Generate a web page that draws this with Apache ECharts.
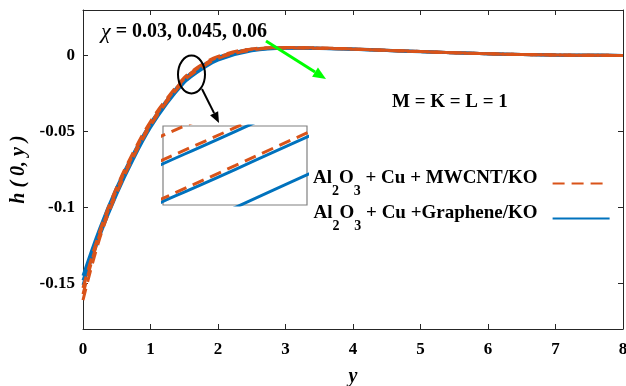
<!DOCTYPE html>
<html><head><meta charset="utf-8">
<script src="https://cdn.jsdelivr.net/npm/echarts@6/dist/echarts.min.js"></script>
<style>html,body{margin:0;padding:0;background:#fff}#c{width:626px;height:386px}</style>
</head><body><div id="c"></div>
<script>
// ---- data ----
const yPos = [0, 0.25, 0.5, 0.75, 1, 1.25, 1.5, 1.6, 1.75, 2, 2.5, 3, 3.5, 4, 4.5, 5, 5.5, 6, 6.5, 7, 7.5, 8];
const chiValues = ['0.03', '0.045', '0.06'];
const graphene_chi003 = [-0.145, -0.1135, -0.0868, -0.0642, -0.0446, -0.0289, -0.0154, -0.01164, -0.0071, -0.0011, 0.0041, 0.0052, 0.0049, 0.0043, 0.0035, 0.0026, 0.0018, 0.0012, 0.0007, 0.0004, 0.0002, 0.0001];
const graphene_chi0045 = [-0.148, -0.116, -0.089, -0.066, -0.046, -0.030, -0.0165, -0.0128, -0.0082, -0.0020, 0.0036, 0.0050, 0.0048, 0.0042, 0.0034, 0.0026, 0.0018, 0.0012, 0.0007, 0.0004, 0.0002, 0.0001];
const graphene_chi006 = [-0.151, -0.1185, -0.0912, -0.0678, -0.0474, -0.0311, -0.0177, -0.01396, -0.0093, -0.0029, 0.0031, 0.0048, 0.0047, 0.0041, 0.0033, 0.0025, 0.0018, 0.0012, 0.0007, 0.0004, 0.0002, 0.0001];
const mwcnt_chi003 = [-0.153, -0.1155, -0.0865, -0.0632, -0.0434, -0.0279, -0.0145, -0.01079, -0.0063, -0.0005, 0.0044, 0.0053, 0.0050, 0.0043, 0.0035, 0.0027, 0.0019, 0.0012, 0.0007, 0.0004, 0.0002, 0.0001];
const mwcnt_chi0045 = [-0.157, -0.1175, -0.0885, -0.0648, -0.0448, -0.0289, -0.0153, -0.01152, -0.0070, -0.0010, 0.0041, 0.0052, 0.0049, 0.0043, 0.0035, 0.0026, 0.0018, 0.0012, 0.0007, 0.0004, 0.0002, 0.0001];
const mwcnt_chi006 = [-0.161, -0.1200, -0.0905, -0.0665, -0.0462, -0.0300, -0.0165, -0.01268, -0.0081, -0.0019, 0.0036, 0.0050, 0.0048, 0.0042, 0.0034, 0.0026, 0.0018, 0.0012, 0.0007, 0.0004, 0.0002, 0.0001];
const xTicks = [0, 1, 2, 3, 4, 5, 6, 7, 8];
const yTicks = [-0.15, -0.1, -0.05, 0];
const insetXRange = [1.57, 1.63];
const insetYRange = [-0.01388, -0.01147];
const nameMWCNT = 'Al2O3 + Cu + MWCNT/KO';
const nameGraphene = 'Al2O3 + Cu +Graphene/KO';

// ---- chart ----
const FONT = 'Liberation Serif';
const BLUE = '#0072BD', ORANGE = '#D95319', AX = '#262626';
const chart = echarts.init(document.getElementById('c'));
const pairs = arr => yPos.map((x, i) => [x, arr[i]]);
const blueSets = [graphene_chi003, graphene_chi0045, graphene_chi006];
const orangeSets = [mwcnt_chi003, mwcnt_chi0045, mwcnt_chi006];

const series = [];
[0, 1].forEach(g => {
  blueSets.forEach(d => series.push({
    type: 'line', name: nameGraphene, data: pairs(d), xAxisIndex: g * 2, yAxisIndex: g * 2,
    smooth: 0.4, symbol: 'none', showSymbol: false, z: 2,
    lineStyle: { color: BLUE, width: 3 }, itemStyle: { color: BLUE }
  }));
  orangeSets.forEach(d => series.push({
    type: 'line', name: nameMWCNT, data: pairs(d), xAxisIndex: g * 2, yAxisIndex: g * 2,
    smooth: 0.4, symbol: 'none', showSymbol: false, z: 3,
    lineStyle: { color: ORANGE, width: 3, type: [12, 7] }, itemStyle: { color: ORANGE }
  }));
});

const labelStyle = { color: '#000', fontFamily: FONT, fontWeight: 'bold', fontSize: 17 };
const axLine = { show: true, onZero: false, lineStyle: { color: AX, width: 1 } };
const tickIn = { show: true, inside: true, length: 5, lineStyle: { color: AX } };

function arrow(x1, y1, x2, y2, color, w, hl, hw) {
  const dx = x2 - x1, dy = y2 - y1, L = Math.hypot(dx, dy), ux = dx / L, uy = dy / L;
  const bx = x2 - ux * hl, by = y2 - uy * hl;
  return [
    { type: 'line', shape: { x1, y1, x2: bx, y2: by }, style: { stroke: color, lineWidth: w }, z: 100 },
    { type: 'polygon', shape: { points: [[x2, y2], [bx - uy * hw / 2, by + ux * hw / 2], [bx + uy * hw / 2, by - ux * hw / 2]] }, style: { fill: color }, z: 100 }
  ];
}

const legendFmt = n => n === nameMWCNT
  ? '{n|Al}{s|2}{n|O}{s|3}{n| + Cu + MWCNT/KO}{sp| }'
  : '{n|Al}{s|2}{n|O}{s|3}{n| + Cu +Graphene/KO}{sp| }';

chart.setOption({
  animation: false,
  backgroundColor: '#fff',
  grid: [
    { left: 83, right: 3, top: 10, bottom: 57, show: false, outerBoundsMode: 'none', containLabel: false },
    { left: 163, top: 126, width: 144, height: 79, show: true, borderColor: '#808080', borderWidth: 1.2, backgroundColor: 'transparent', outerBoundsMode: 'none' }
  ],
  xAxis: [
    { type: 'value', gridIndex: 0, min: 0, max: 8, interval: 1, position: 'bottom',
      axisLine: axLine, axisTick: tickIn, splitLine: { show: false },
      axisLabel: Object.assign({ margin: 12 }, labelStyle),
      name: 'y', nameLocation: 'middle', nameGap: 38,
      nameTextStyle: { fontFamily: FONT, fontWeight: 'bold', fontStyle: 'italic', fontSize: 20, color: '#000' } },
    { type: 'value', gridIndex: 0, min: 0, max: 8, interval: 1, position: 'top',
      axisLine: axLine, axisTick: tickIn, splitLine: { show: false }, axisLabel: { show: false } },
    { type: 'value', gridIndex: 1, min: insetXRange[0], max: insetXRange[1], show: false }
  ],
  yAxis: [
    { type: 'value', gridIndex: 0, min: -0.18, max: 0.03, position: 'left',
      axisLine: axLine, splitLine: { show: false },
      axisTick: Object.assign({ customValues: yTicks }, tickIn),
      axisLabel: Object.assign({ customValues: yTicks, margin: 8, formatter: v => String(+v.toFixed(2)) }, labelStyle),
      name: 'h ( 0, y )', nameLocation: 'middle', nameGap: 52, nameRotate: 90,
      nameTextStyle: { fontFamily: FONT, fontWeight: 'bold', fontStyle: 'italic', fontSize: 20, color: '#000' } },
    { type: 'value', gridIndex: 0, min: -0.18, max: 0.03, position: 'right',
      axisLine: axLine, splitLine: { show: false },
      axisTick: Object.assign({ customValues: yTicks }, tickIn), axisLabel: { show: false } },
    { type: 'value', gridIndex: 1, min: insetYRange[0], max: insetYRange[1], show: false }
  ],
  legend: {
    data: [nameMWCNT, nameGraphene], orient: 'vertical', left: 308, top: 164,
    align: 'right', itemWidth: 57, itemHeight: 14, itemGap: 6,
    formatter: legendFmt, selectedMode: false,
    itemStyle: { color: 'rgba(0,0,0,0)', borderColor: 'rgba(0,0,0,0)', borderWidth: 0, opacity: 0 },
    textStyle: {
      rich: {
        n: { fontFamily: FONT, fontWeight: 'bold', fontSize: 19, color: '#000', lineHeight: 29, verticalAlign: 'top' },
        s: { fontFamily: FONT, fontWeight: 'bold', fontSize: 14, color: '#000', verticalAlign: 'bottom', lineHeight: 15 },
        sp: { fontSize: 10, width: 10 }
      }
    }
  },
  graphic: [
    { type: 'text', left: 101, top: 21, z: 100, style: {
      text: '{i|χ}{b| = ' + chiValues.join(', ') + '}',
      rich: { i: { fontFamily: FONT, fontStyle: 'italic', fontSize: 22, fill: '#000' },
              b: { fontFamily: FONT, fontWeight: 'bold', fontSize: 20, fill: '#000' } } } },
    { type: 'text', left: 392, top: 93, z: 100, style: { text: 'M = K = L = 1', fontFamily: FONT, fontWeight: 'bold', fontSize: 19, fill: '#000' } },
    { type: 'ellipse', shape: { cx: 191.5, cy: 74.5, rx: 13.5, ry: 19 }, style: { fill: 'none', stroke: '#000', lineWidth: 2 }, z: 100 },
    ...arrow(266, 41, 326, 79, '#00FF00', 3, 13, 11),
    ...arrow(202, 89, 219, 123, '#000', 2, 11, 9)
  ],
  series
});
</script></body></html>
